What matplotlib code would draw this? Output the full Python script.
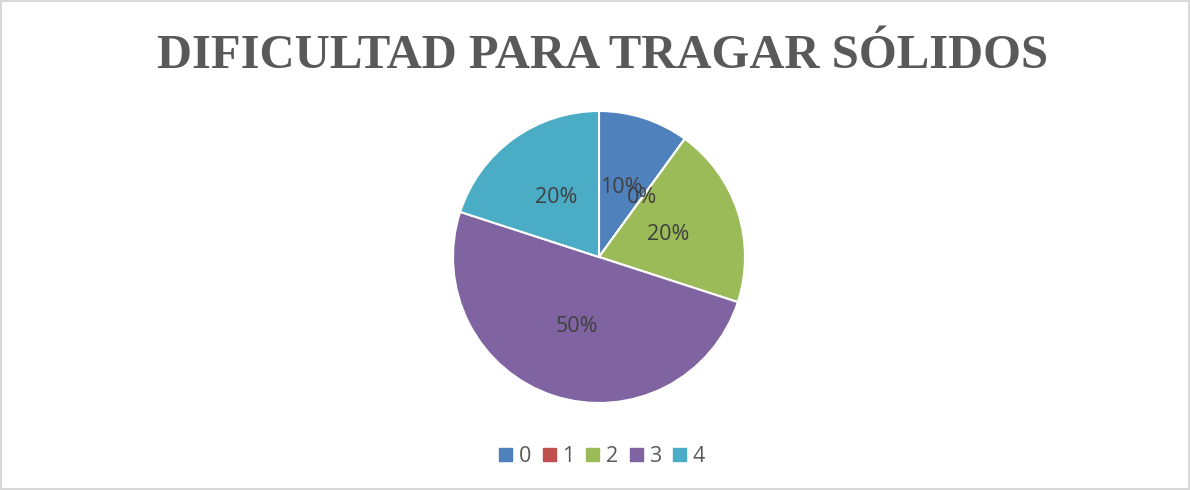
import matplotlib.pyplot as plt
from matplotlib.patches import Patch

# data
categories = ['0', '1', '2', '3', '4']
values = [10, 0, 20, 50, 20]
colors = ['#4F81BD', '#C0504D', '#9BBB59', '#8064A2', '#4BACC6']
title = 'DIFICULTAD PARA TRAGAR SÓLIDOS'

fig = plt.figure(figsize=(11.9, 4.9), dpi=100)
fig.patch.set_edgecolor('#D9D9D9')
fig.patch.set_linewidth(1.5)

fig.text(0.506, 0.886, title, ha='center', va='center',
         fontsize=35, fontweight='bold', family='Liberation Serif', color='#595959')

ax = fig.add_axes([453 / 1190, 87 / 490, 292 / 1190, 292 / 490])
wedges, texts, autotexts = ax.pie(
    values, colors=colors, startangle=90, counterclock=False,
    autopct='%1.0f%%', pctdistance=0.5,
    wedgeprops=dict(edgecolor='white', linewidth=1.5),
    textprops=dict(fontsize=15.5, color='#404040', family='Open Sans'))
ax.set_xlim(-1, 1)
ax.set_ylim(-1, 1)
ax.set_aspect('equal')

handles = [Patch(facecolor=c, edgecolor=c) for c in colors]
fig.legend(handles, categories, loc='center', bbox_to_anchor=(0.506, 0.068),
           ncol=5, frameon=False, handlelength=0.6, handleheight=0.6,
           handletextpad=0.3, columnspacing=0.55, labelcolor='#595959',
           prop=dict(family='Open Sans', size=15.5))

fig.savefig('out.png', dpi=100)
